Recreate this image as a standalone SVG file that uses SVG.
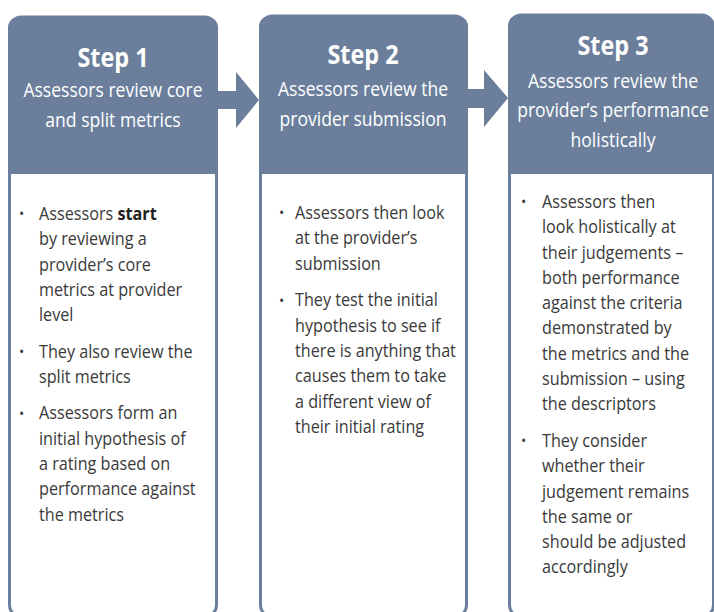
<svg xmlns="http://www.w3.org/2000/svg" width="714" height="612" viewBox="0 0 714 612">
<style>
.frame{fill:#ffffff;stroke:#6b7f9c;stroke-width:3}
.head{fill:#6b7f9c}
.arrow{fill:#6b7f9c}
.t{font-family:"Open Sans","Noto Sans","Liberation Sans",sans-serif;fill:#ffffff;text-anchor:middle}
.step{font-size:26px;font-weight:700}
.sub{font-size:19.5px}
.b{font-family:"Open Sans","Noto Sans","Liberation Sans",sans-serif;font-size:18px;fill:#3a3a3a}
.bul{font-family:"Open Sans","Noto Sans","Liberation Sans",sans-serif;font-size:14px;fill:#3a3a3a}
</style>
<rect width="714" height="612" fill="#ffffff"/>
<g id="connectors">
<path class="arrow" d="M217,91 H236 V72 L259,100 L236,128 V109 H217 Z"/>
<path class="arrow" d="M467,89 H484 V70 L508,98 L484,127 V108 H467 Z"/>
</g>
<g id="step1">
<rect class="frame" x="9.5" y="17" width="207" height="600" rx="12"/>
<path class="head" d="M8,174 V29 Q8,17 20,17 H206 Q218,17 218,29 V174 Z"/>
<g transform="translate(113 0) scale(0.9 1)">
<text class="t step" x="0" y="67">Step 1</text>
<text class="t sub" x="0" y="97">Assessors review core</text>
<text class="t sub" x="0" y="127">and split metrics</text>
</g>
<text class="bul" x="19" y="219">•</text>
<text class="bul" x="19" y="357">•</text>
<text class="bul" x="19" y="419">•</text>
<g transform="translate(39 0) scale(0.9 1)">
<text class="b" x="0" y="220">Assessors <tspan font-weight="700" fill="#222">start</tspan></text>
<text class="b" x="0" y="245.3">by reviewing a</text>
<text class="b" x="0" y="270.6">provider’s core</text>
<text class="b" x="0" y="295.9">metrics at provider</text>
<text class="b" x="0" y="321.2">level</text>
<text class="b" x="0" y="357.7">They also review the</text>
<text class="b" x="0" y="383">split metrics</text>
<text class="b" x="0" y="419.5">Assessors form an</text>
<text class="b" x="0" y="444.8">initial hypothesis of</text>
<text class="b" x="0" y="470.1">a rating based on</text>
<text class="b" x="0" y="495.4">performance against</text>
<text class="b" x="0" y="520.7">the metrics</text>
</g>
</g>
<g id="step2">
<rect class="frame" x="260.5" y="16" width="206" height="601" rx="12"/>
<path class="head" d="M259,174 V28 Q259,16 271,16 H456 Q468,16 468,28 V174 Z"/>
<g transform="translate(363 0) scale(0.9 1)">
<text class="t step" x="0" y="64">Step 2</text>
<text class="t sub" x="0" y="96">Assessors review the</text>
<text class="t sub" x="0" y="126">provider submission</text>
</g>
<text class="bul" x="279" y="218">•</text>
<text class="bul" x="279" y="306">•</text>
<g transform="translate(295 0) scale(0.9 1)">
<text class="b" x="0" y="219">Assessors then look</text>
<text class="b" x="0" y="244.3">at the provider’s</text>
<text class="b" x="0" y="269.6">submission</text>
<text class="b" x="0" y="306.5">They test the initial</text>
<text class="b" x="0" y="331.8">hypothesis to see if</text>
<text class="b" x="0" y="357.1">there is anything that</text>
<text class="b" x="0" y="382.4">causes them to take</text>
<text class="b" x="0" y="407.7">a different view of</text>
<text class="b" x="0" y="433">their initial rating</text>
</g>
</g>
<g id="step3">
<rect class="frame" x="509.5" y="15" width="204" height="602" rx="12"/>
<path class="head" d="M508,174 V27 Q508,15 520,15 H702 Q714,15 714,27 V174 Z"/>
<g transform="translate(613 0) scale(0.9 1)">
<text class="t step" x="0" y="55">Step 3</text>
<text class="t sub" x="0" y="88">Assessors review the</text>
<text class="t sub" x="0" y="117.5">provider’s performance</text>
<text class="t sub" x="0" y="147">holistically</text>
</g>
<text class="bul" x="521" y="207">•</text>
<text class="bul" x="521" y="446">•</text>
<g transform="translate(542 0) scale(0.9 1)">
<text class="b" x="0" y="208">Assessors then</text>
<text class="b" x="0" y="233.3">look holistically at</text>
<text class="b" x="0" y="258.6">their judgements –</text>
<text class="b" x="0" y="283.9">both performance</text>
<text class="b" x="0" y="309.2">against the criteria</text>
<text class="b" x="0" y="334.5">demonstrated by</text>
<text class="b" x="0" y="359.8">the metrics and the</text>
<text class="b" x="0" y="385.1">submission – using</text>
<text class="b" x="0" y="410.4">the descriptors</text>
<text class="b" x="0" y="447">They consider</text>
<text class="b" x="0" y="472.3">whether their</text>
<text class="b" x="0" y="497.6">judgement remains</text>
<text class="b" x="0" y="522.9">the same or</text>
<text class="b" x="0" y="548.2">should be adjusted</text>
<text class="b" x="0" y="573.5">accordingly</text>
</g>
</g>
</svg>
